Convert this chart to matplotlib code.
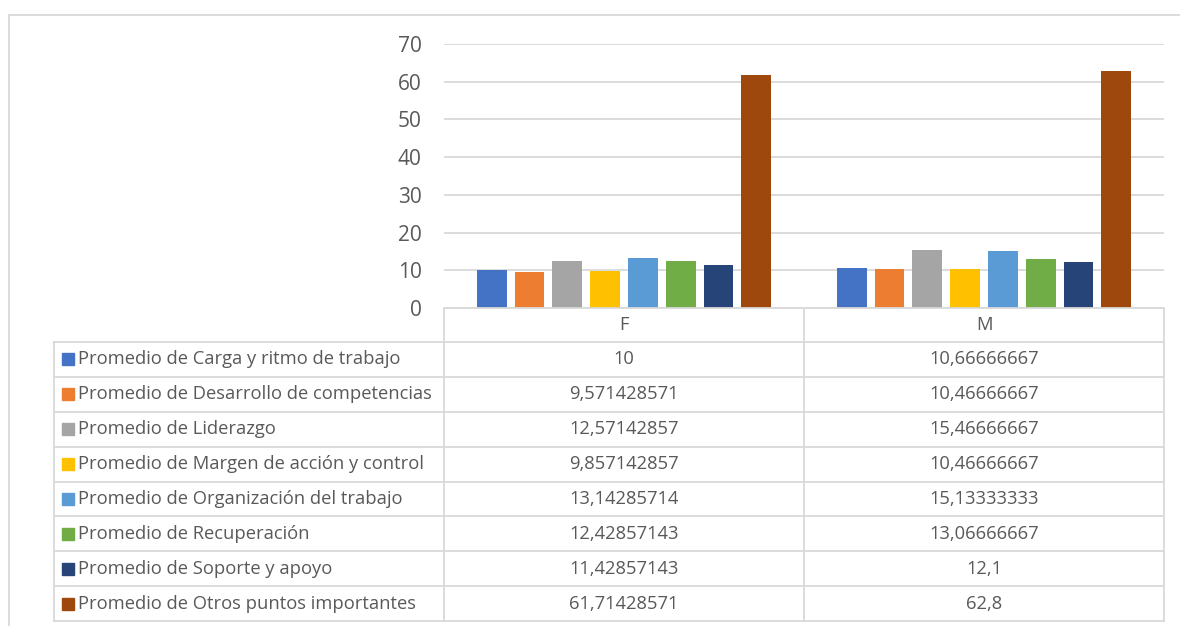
import matplotlib.pyplot as plt
from matplotlib.lines import Line2D
from matplotlib.patches import Rectangle
import numpy as np

plt.rcParams['font.family'] = ['Open Sans', 'DejaVu Sans']

groups = ["F", "M"]
series = [
    "Promedio de Carga y ritmo de trabajo",
    "Promedio de Desarrollo de competencias",
    "Promedio de Liderazgo",
    "Promedio de Margen de acción y control",
    "Promedio de Organización del trabajo",
    "Promedio de Recuperación",
    "Promedio de Soporte y apoyo",
    "Promedio de Otros puntos importantes",
]
values_f = [10, 9.571428571, 12.57142857, 9.857142857, 13.14285714,
            12.42857143, 11.42857143, 61.71428571]
values_m = [10.66666667, 10.46666667, 15.46666667, 10.46666667, 15.13333333,
            13.06666667, 12.1, 62.8]
colors = ["#4472C4", "#ED7D31", "#A5A5A5", "#FFC000", "#5B9BD5",
          "#70AD47", "#264478", "#9E480E"]

W, H = 1180, 626
grid_c = "#D9D9D9"
text_c = "#595959"
fs = 13.2

fig = plt.figure(figsize=(W / 100, H / 100), dpi=100)


def fx(px):
    return px / W


def fy(py):
    return 1 - py / H


def hline(y, x0, x1, lw=1.3):
    fig.add_artist(Line2D([fx(x0), fx(x1)], [fy(y), fy(y)], color=grid_c,
                          lw=lw, transform=fig.transFigure))


def vline(x, y0, y1, lw=1.3):
    fig.add_artist(Line2D([fx(x), fx(x)], [fy(y0), fy(y1)], color=grid_c,
                          lw=lw, transform=fig.transFigure))


# chart border
hline(15, 9, W)
vline(9, 15, H)

# plot area
left, right, top, bottom = 444, 1164, 44, 308
ax = fig.add_axes([fx(left), fy(bottom), fx(right - left), (bottom - top) / H])
n = len(series)
pitch = 0.105
width = 0.0825
x = np.arange(len(groups))
for i in range(n):
    offs = (i - (n - 1) / 2) * pitch
    ax.bar(x + offs, [values_f[i], values_m[i]], width=width, color=colors[i],
           zorder=3)
ax.set_xlim(-0.5, 1.5)
ax.set_ylim(0, 70)
ax.set_yticks(range(0, 71, 10))
ax.set_xticks([])
ax.yaxis.grid(True, color=grid_c, lw=1.3, zorder=0)
ax.tick_params(axis='y', length=0, pad=16, labelsize=15, labelcolor=text_c)
for s in ax.spines.values():
    s.set_visible(False)

# data table
col_x = [left, 804, right]
row_top = 342
row_h = (621 - row_top) / n
table_left = 54

hline(bottom, left, right)
hline(row_top, table_left, right)
for c in col_x:
    vline(c, bottom, 621)
vline(table_left, row_top, 621)
for gi, g in enumerate(groups):
    fig.text(fx((col_x[gi] + col_x[gi + 1]) / 2), fy((bottom + row_top) / 2), g,
             ha='center', va='center', fontsize=fs, color=text_c)


def fmt(v):
    return f"{v:.10g}".replace(".", ",")


for i in range(n):
    y0 = row_top + i * row_h
    y1 = y0 + row_h
    hline(y1, table_left, right)
    yc = (y0 + y1) / 2
    sq = 12
    fig.add_artist(Rectangle((fx(62), fy(yc + sq / 2)), sq / W, sq / H,
                             color=colors[i], transform=fig.transFigure))
    fig.text(fx(78), fy(yc), series[i], ha='left', va='center',
             fontsize=fs, color=text_c)
    for gi, vals in enumerate([values_f, values_m]):
        fig.text(fx((col_x[gi] + col_x[gi + 1]) / 2), fy(yc), fmt(vals[i]),
                 ha='center', va='center', fontsize=fs, color=text_c)

fig.savefig("out.png", dpi=100)
